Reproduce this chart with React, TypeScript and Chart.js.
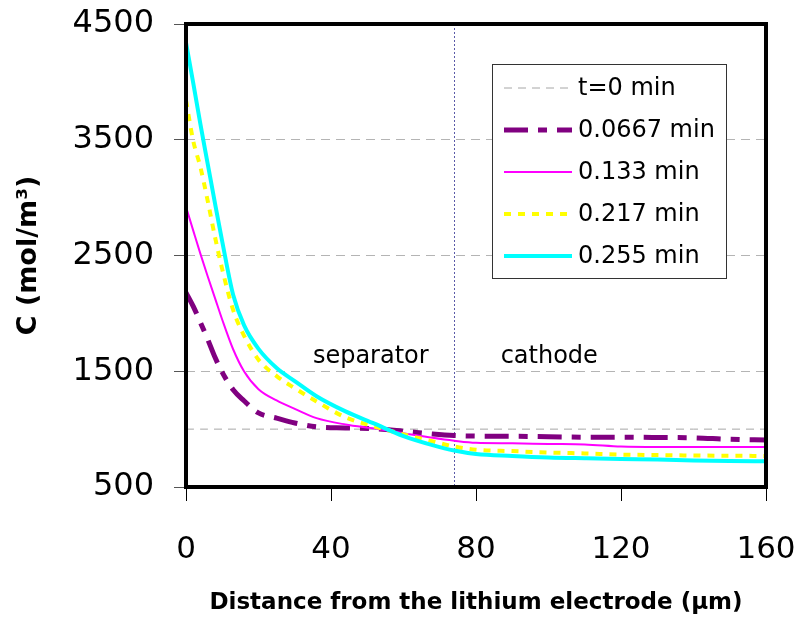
import { useEffect, useRef } from "react";
import { Chart, registerables } from "chart.js";

Chart.register(...registerables);

// Distance from the lithium electrode (µm)
const distance = [0, 2, 4, 6, 8, 10, 13, 16, 20, 25, 30, 36, 44, 52, 60, 68, 74, 80, 90, 100, 110, 120, 130, 140, 150, 160];

// Electrolyte concentration profiles (mol/m³) at several times
const cT0 = [1000, 1000, 1000, 1000, 1000, 1000, 1000, 1000, 1000, 1000, 1000, 1000, 1000, 1000, 1000, 1000, 1000, 1000, 1000, 1000, 1000, 1000, 1000, 1000, 1000, 1000];
const cT0667 = [2180, 2060, 1920, 1775, 1620, 1490, 1340, 1245, 1140, 1095, 1053, 1020, 1010, 1003, 982, 958, 945, 940, 938, 935, 930, 930, 928, 925, 912, 906];
const cT133 = [2920, 2715, 2512, 2318, 2132, 1945, 1690, 1500, 1345, 1248, 1175, 1095, 1040, 1005, 965, 925, 900, 882, 878, 872, 868, 850, 846, 846, 846, 846];
const cT217 = [3840, 3490, 3260, 2970, 2660, 2380, 2030, 1808, 1600, 1458, 1353, 1239, 1102, 1022, 955, 895, 850, 822, 810, 798, 790, 780, 776, 772, 770, 768];
const cT255 = [4340, 3990, 3630, 3290, 2950, 2620, 2160, 1898, 1693, 1528, 1415, 1284, 1153, 1047, 940, 862, 815, 785, 768, 755, 748, 742, 738, 730, 725, 722];

const seriesLabels = ["t=0 min", "0.0667 min", "0.133 min", "0.217 min", "0.255 min"];

// Separator / cathode boundary (µm) and region names
const boundaryX = 74;
const regionLabels = [
  { text: "separator", x: 35, y: 1571 },
  { text: "cathode", x: 86.8, y: 1571 },
];

const yTicks = [500, 1500, 2500, 3500, 4500];

const FONT = "'DejaVu Sans', sans-serif";

const toPoints = (ys: number[]) => ys.map((y, i) => ({ x: distance[i], y }));

const decorations = {
  id: "decorations",
  beforeDatasetsDraw(chart: any) {
    const { ctx, chartArea, scales } = chart;
    const px = Math.round(scales.x.getPixelForValue(boundaryX)) + 0.5;
    ctx.save();
    ctx.strokeStyle = "#5a5aa8";
    ctx.lineWidth = 1;
    ctx.setLineDash([2, 2]);
    ctx.beginPath();
    ctx.moveTo(px, chartArea.top);
    ctx.lineTo(px, chartArea.bottom);
    ctx.stroke();
    ctx.restore();
  },
  afterDatasetsDraw(chart: any) {
    const { ctx, chartArea, scales } = chart;
    ctx.save();
    ctx.fillStyle = "#000";
    ctx.font = `24px ${FONT}`;
    ctx.textAlign = "left";
    ctx.textBaseline = "alphabetic";
    for (const r of regionLabels) {
      ctx.fillText(r.text, scales.x.getPixelForValue(r.x), scales.y.getPixelForValue(r.y));
    }
    // plot frame
    ctx.strokeStyle = "#000";
    ctx.lineWidth = 4;
    ctx.strokeRect(chartArea.left, chartArea.top, chartArea.right - chartArea.left, chartArea.bottom - chartArea.top);
    ctx.restore();
  },
  afterDraw(chart: any) {
    const { ctx } = chart;
    const box = { x: 492.5, y: 64.5, w: 234, h: 214 };
    ctx.save();
    ctx.fillStyle = "#fff";
    ctx.fillRect(box.x, box.y, box.w, box.h);
    ctx.strokeStyle = "#333";
    ctx.lineWidth = 1;
    ctx.strokeRect(box.x, box.y, box.w, box.h);
    ctx.font = `24px ${FONT}`;
    ctx.textBaseline = "middle";
    ctx.textAlign = "left";
    chart.data.datasets.forEach((ds: any, i: number) => {
      const y = 88 + i * 42;
      ctx.save();
      ctx.strokeStyle = ds.borderColor;
      ctx.lineWidth = ds.borderWidth;
      ctx.setLineDash(ds.borderDash || []);
      ctx.beginPath();
      ctx.moveTo(504, y);
      ctx.lineTo(572, y);
      ctx.stroke();
      ctx.restore();
      ctx.fillStyle = "#000";
      ctx.fillText(ds.label, 578, y + 1);
    });
    ctx.restore();
  },
};

export default function App() {
  const canvasRef = useRef<HTMLCanvasElement | null>(null);

  useEffect(() => {
    const canvas = canvasRef.current;
    if (!canvas) return;
    const common = { pointRadius: 0, fill: false, cubicInterpolationMode: "monotone" as const };
    const chart = new Chart(canvas, {
      type: "line",
      data: {
        datasets: [
          { ...common, label: seriesLabels[0], data: toPoints(cT0), borderColor: "#a6a6a6", borderWidth: 1, borderDash: [8, 6], order: 4 },
          { ...common, label: seriesLabels[1], data: toPoints(cT0667), borderColor: "#800080", borderWidth: 5, borderDash: [24, 10, 9, 10], order: 3 },
          { ...common, label: seriesLabels[2], data: toPoints(cT133), borderColor: "#ff00ff", borderWidth: 2, order: 2 },
          { ...common, label: seriesLabels[3], data: toPoints(cT217), borderColor: "#ffff00", borderWidth: 4, borderDash: [7, 7], order: 1 },
          { ...common, label: seriesLabels[4], data: toPoints(cT255), borderColor: "#00ffff", borderWidth: 4, order: 0 },
        ],
      },
      options: {
        responsive: false,
        animation: false,
        layout: { padding: { left: 0, right: 33, top: 24, bottom: 0 } },
        plugins: { legend: { display: false }, tooltip: { enabled: false } },
        scales: {
          x: {
            type: "linear",
            min: 0,
            max: 160,
            afterFit: (scale: any) => {
              scale.height = 136;
              scale.paddingLeft = 0;
              scale.paddingRight = 0;
            },
            ticks: {
              stepSize: 40,
              color: "#000",
              padding: 30,
              maxRotation: 0,
              font: { family: FONT, size: 31 },
            },
            grid: { drawOnChartArea: false, drawTicks: true, tickLength: 14, tickColor: "#000", tickWidth: 1 },
            border: { display: false },
            title: {
              display: true,
              text: "Distance from the lithium electrode (μm)",
              color: "#000",
              font: { family: FONT, size: 23, weight: "bold" },
              padding: { top: 0, bottom: 6 },
            },
          },
          y: {
            type: "linear",
            min: 500,
            max: 4500,
            afterFit: (scale: any) => {
              scale.width = 186;
              scale.paddingTop = 0;
              scale.paddingBottom = 0;
            },
            afterBuildTicks: (scale: any) => {
              scale.ticks = yTicks.map((v) => ({ value: v }));
            },
            ticks: {
              color: "#000",
              padding: 20,
              font: { family: FONT, size: 32 },
              callback: (v: any) => String(v),
            },
            grid: {
              color: (ctx: any) => (ctx.tick && (ctx.tick.value === 500 || ctx.tick.value === 4500) ? "rgba(0,0,0,0)" : "#b4b4b4"),
              lineWidth: 1,
              drawTicks: true,
              tickLength: 12,
              tickColor: "#555",
              tickWidth: 1,
            },
            border: { display: false, dash: [9, 6] },
            title: {
              display: true,
              text: "C (mol/m³)",
              color: "#000",
              font: { family: FONT, size: 27, weight: "bold" },
              padding: { top: 13, bottom: 0 },
            },
          },
        },
      },
      plugins: [decorations],
    });
    return () => chart.destroy();
  }, []);

  return (
    <div style={{ position: "fixed", left: 0, top: 0, width: 799, height: 623, background: "#fff" }}>
      <canvas ref={canvasRef} width={799} height={623} />
    </div>
  );
}
